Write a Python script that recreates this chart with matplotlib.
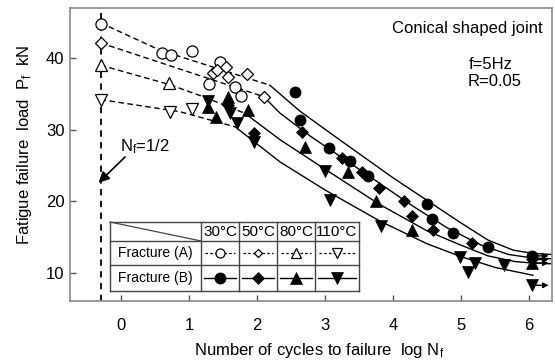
import matplotlib
matplotlib.use("Agg")
import matplotlib.pyplot as plt
from matplotlib.patches import Rectangle

plt.rcParams['font.family'] = ['Liberation Sans', 'DejaVu Sans']
plt.rcParams['mathtext.fontset'] = 'custom'
plt.rcParams['mathtext.rm'] = 'Liberation Sans'
plt.rcParams['mathtext.it'] = 'Liberation Sans:italic'

# ---------------- data ----------------
temps = ['30°C', '50°C', '80°C', '110°C']
mk = ['o', 'D', '^', 'v']
NF_HALF = -0.301  # log(1/2)

# Fracture (A), open symbols
a30_x = [-0.30, 0.61, 0.74, 1.04, 1.46, 1.30, 1.68, 1.76]
a30_y = [44.8, 40.7, 40.4, 41.0, 39.5, 36.4, 36.0, 34.7]
a50_x = [-0.30, 1.35, 1.41, 1.55, 1.58, 1.86, 2.10]
a50_y = [42.1, 37.9, 38.3, 38.8, 37.3, 37.7, 34.6]
a80_x = [-0.30, 0.71]
a80_y = [39.0, 36.5]
a110_x = [-0.30, 0.72, 1.04]
a110_y = [34.2, 32.4, 32.9]

# Fracture (B), filled symbols
b30_x = [2.56, 2.63, 3.06, 3.37, 3.64, 4.50, 4.58, 4.88, 5.40, 6.04]
b30_y = [35.3, 31.4, 27.4, 25.6, 23.5, 19.7, 17.5, 15.6, 13.7, 12.4]
b50_x = [1.58, 1.96, 2.66, 3.25, 3.54, 3.80, 4.17, 4.28, 4.59, 5.16, 6.04]
b50_y = [33.4, 29.6, 29.7, 26.0, 24.1, 21.9, 20.1, 18.0, 16.0, 14.2, 11.9]
b80_x = [1.28, 1.40, 1.58, 1.87, 2.71, 3.34, 3.75, 4.28, 6.04]
b80_y = [33.1, 31.7, 34.6, 32.8, 27.6, 24.1, 20.0, 16.0, 11.4]
b110_x = [1.28, 1.60, 1.70, 1.96, 3.00, 3.07, 3.83, 4.99, 5.21, 5.11, 5.63, 6.04]
b110_y = [34.0, 32.3, 31.0, 28.3, 24.3, 20.2, 16.5, 12.3, 11.4, 10.1, 11.1, 8.3]

# run-outs (no failure) at 10^6 cycles
runout_y = [12.4, 11.9, 11.4, 8.3]
runout_x = [6.04, 6.04, 6.04, 6.04]

# dashed fits (A)
fa30_x = [-0.30, 0.57, 2.19]
fa30_y = [44.9, 41.1, 36.2]
fa50_x = [-0.30, 2.10]
fa50_y = [42.1, 34.6]
fa80_x = [-0.30, 0.71, 1.21, 1.82]
fa80_y = [39.0, 36.3, 34.6, 32.3]
fa110_x = [-0.30, 0.87, 1.68]
fa110_y = [34.2, 32.5, 30.4]

# solid fits (B)
fb30_x = [2.19, 2.63, 3.2, 4.0, 4.54, 5.0, 5.4, 5.77, 6.06, 6.33]
fb30_y = [36.2, 32.6, 28.7, 23.3, 19.9, 17.0, 14.6, 13.2, 12.75, 12.6]
fb50_x = [2.10, 2.34, 2.8, 3.5, 4.3, 4.8, 5.3, 5.7, 6.06, 6.33]
fb50_y = [34.6, 32.3, 29.0, 24.5, 19.3, 16.3, 13.9, 12.6, 12.1, 12.0]
fb80_x = [1.82, 2.34, 3.0, 3.8, 4.5, 5.0, 5.4, 5.8, 6.06, 6.33]
fb80_y = [32.3, 28.6, 24.5, 19.6, 15.9, 13.9, 12.4, 11.6, 11.4, 11.3]
fb110_x = [1.68, 2.34, 3.0, 3.8, 4.5, 5.0, 5.5, 6.06]
fb110_y = [30.4, 25.5, 21.6, 17.3, 14.1, 12.3, 10.8, 9.7]

xticks = [0, 1, 2, 3, 4, 5, 6]
yticks = [10, 20, 30, 40]

# ---------------- figure ----------------
W, H = 555, 360
L, R, T, B = 70, 552, 8, 301
fig = plt.figure(figsize=(W / 100, H / 100), dpi=100)
ax = fig.add_axes([L / W, 1 - B / H, (R - L) / W, (B - T) / H])
ax.set_xlim(-0.75, 6.34)
ax.set_ylim(6.11, 46.97)

for s in ax.spines.values():
    s.set_color('#8a8a8a')
    s.set_linewidth(1.2)

ax.set_xticks(xticks)
ax.set_yticks(yticks)
ax.tick_params(axis='both', direction='in', length=4, width=1, color='#555555',
               labelsize=12)
ax.tick_params(axis='x', pad=12)
ax.tick_params(axis='y', pad=4)

ax.axvline(NF_HALF, color='black', lw=1.3, dashes=(3.5, 3), zorder=1)

lw = 1.0
dash = (4, 2.5)
for xs, ys in [(fa30_x, fa30_y), (fa50_x, fa50_y), (fa80_x, fa80_y), (fa110_x, fa110_y)]:
    ax.plot(xs, ys, color='black', lw=lw, dashes=dash, zorder=2)
for xs, ys in [(fb30_x, fb30_y), (fb50_x, fb50_y), (fb80_x, fb80_y), (fb110_x, fb110_y)]:
    ax.plot(xs, ys, color='black', lw=lw, zorder=2)

msz = {'o': 8, 'D': 6, '^': 8, 'v': 8}
A = [(a30_x, a30_y), (a50_x, a50_y), (a80_x, a80_y), (a110_x, a110_y)]
Bd = [(b30_x, b30_y), (b50_x, b50_y), (b80_x, b80_y), (b110_x, b110_y)]
for (xs, ys), m in zip(A, mk):
    ax.plot(xs, ys, ls='none', marker=m, ms=msz[m], mfc='white', mec='black',
            mew=0.9, zorder=4)
for (xs, ys), m in zip(Bd, mk):
    ax.plot(xs, ys, ls='none', marker=m, ms=msz[m], mfc='black', mec='black',
            mew=0.5, zorder=4)

for x, y in zip(runout_x, runout_y):
    ax.annotate('', xy=(x + 0.25, y), xytext=(x + 0.05, y),
                arrowprops=dict(arrowstyle='-|>', lw=1.0, color='black',
                                mutation_scale=8, shrinkA=0, shrinkB=0),
                zorder=3)

# text annotations
ax.text(0.981, 0.914, 'Conical shaped joint', transform=ax.transAxes,
        ha='right', va='baseline', fontsize=12)
ax.text(0.828, 0.7935, 'f=5Hz', transform=ax.transAxes, ha='left', va='baseline',
        fontsize=12)
ax.text(0.824, 0.733, 'R=0.05', transform=ax.transAxes, ha='left', va='baseline',
        fontsize=12)

ax.text(0.35, 27.6, r'N$_\mathrm{f}$=1/2', ha='center', va='center', fontsize=12)
ax.annotate('', xy=(-0.33, 22.6), xytext=(0.06, 26.2),
            arrowprops=dict(arrowstyle='-|>', lw=1.2, color='black',
                            mutation_scale=16, shrinkA=0, shrinkB=0))

ax.set_xlabel(r'Number of cycles to failure  log N$_\mathrm{f}$', fontsize=12)
ax.set_ylabel(r'Fatigue failure  load  P$_\mathrm{f}$  kN', fontsize=12)
ax.xaxis.set_label_coords(0.516, -0.135)
ax.yaxis.set_label_coords(-0.075, 0.534)


# ---------------- legend table ----------------
def af(px, py):
    return ((px - L) / (R - L), (B - py) / (B - T))


tx0, tx1 = 110, 359
ty0, ty1 = 222, 291
cols = [110, 201, 239, 277, 315, 359]
rows = [222, 241, 264.5, 291]

x0, y0 = af(tx0, ty1)
x1, y1 = af(tx1, ty0)
ax.add_patch(Rectangle((x0, y0), x1 - x0, y1 - y0, transform=ax.transAxes,
                       facecolor='white', edgecolor='none', zorder=5, clip_on=False))

tc = '#444444'


def tline(p, q, **kw):
    a = af(*p)
    b = af(*q)
    ax.plot([a[0], b[0]], [a[1], b[1]], transform=ax.transAxes, clip_on=False,
            zorder=6, **kw)


for cx in cols:
    tline((cx, ty0), (cx, ty1), color=tc, lw=1.0)
for ry in rows:
    tline((tx0, ry), (tx1, ry), color=tc, lw=1.0)
tline((tx0, ty0), (cols[1], rows[1]), color=tc, lw=0.9)

for i, t in enumerate(temps):
    cxm = (cols[i + 1] + cols[i + 2]) / 2
    ax.text(*af(cxm, (rows[0] + rows[1]) / 2 + 0.5), t, transform=ax.transAxes,
            ha='center', va='center', fontsize=11, zorder=7)
    # row A
    ya = (rows[1] + rows[2]) / 2
    tline((cols[i + 1] + 4, ya), (cols[i + 2] - 4, ya), color='black', lw=0.9,
          dashes=(2, 1.8))
    ax.plot(*af(cxm, ya), transform=ax.transAxes, marker=mk[i],
            ms=msz[mk[i]] - 1.5, mfc='white', mec='black', mew=0.9, clip_on=False,
            zorder=8)
    # row B
    yb = (rows[2] + rows[3]) / 2
    tline((cols[i + 1] + 3, yb), (cols[i + 2] - 3, yb), color='black', lw=1.0)
    ax.plot(*af(cxm, yb), transform=ax.transAxes, marker=mk[i],
            ms=msz[mk[i]], mfc='black', mec='black', mew=0.5, clip_on=False,
            zorder=8)

cx1 = (cols[0] + cols[1]) / 2
ax.text(*af(cx1, (rows[1] + rows[2]) / 2 + 0.5), 'Fracture (A)',
        transform=ax.transAxes, ha='center', va='center', fontsize=10, zorder=7)
ax.text(*af(cx1, (rows[2] + rows[3]) / 2 + 0.5), 'Fracture (B)',
        transform=ax.transAxes, ha='center', va='center', fontsize=10, zorder=7)

fig.savefig('out.png', dpi=100)
